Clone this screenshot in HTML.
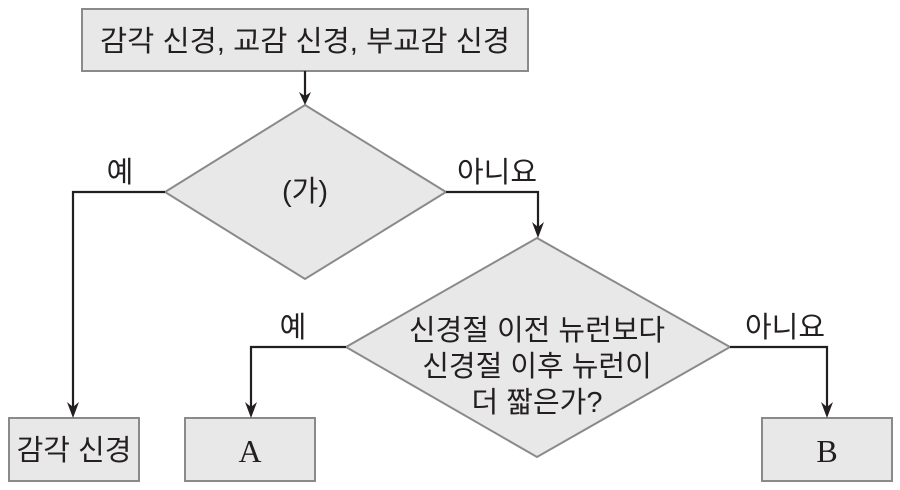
<!DOCTYPE html>
<html><head><meta charset="utf-8"><style>
html,body{margin:0;padding:0;background:#fff;width:900px;height:490px;overflow:hidden}
text{font-family:"Liberation Sans","Noto Sans CJK KR","NanumGothic",sans-serif;fill:#231f20}
</style></head><body>
<svg width="900" height="490" viewBox="0 0 900 490" xmlns="http://www.w3.org/2000/svg">
<g fill="#e8e8e8" stroke="#8a8a8a" stroke-width="2">
<rect x="82" y="9" width="446" height="62"/>
<polygon points="305,105 446,192 305,279 165,192"/>
<polygon points="537,238 730,347 537,457 346,347"/>
<rect x="9" y="418" width="130" height="63"/>
<rect x="185" y="418" width="130" height="63"/>
<rect x="762" y="418" width="130" height="63"/>
</g>
<g fill="none" stroke="#231f20" stroke-width="2.2">
<path d="M305,71 V96"/>
<path d="M165,192 H73 V408"/>
<path d="M446,192 H538 V228"/>
<path d="M346,347 H251 V408"/>
<path d="M730,347 H827 V408"/>
</g>
<g fill="#231f20">
<path d="M299,92 L305,96 L311,92 L305,105 Z"/>
<path d="M67,402 L73,407 L79,402 L73,418 Z"/>
<path d="M532,222 L538,227 L544,222 L538,238 Z"/>
<path d="M245,402 L251,407 L257,402 L251,418 Z"/>
<path d="M821,402 L827,407 L833,402 L827,418 Z"/>
</g>
<g font-size="29" text-anchor="middle">
<text x="305" y="51" textLength="410" lengthAdjust="spacingAndGlyphs">감각 신경, 교감 신경, 부교감 신경</text>
<text x="305" y="201">(가)</text>
<text x="537" y="340">신경절 이전 뉴런보다</text>
<text x="537" y="376">신경절 이후 뉴런이</text>
<text x="537" y="412">더 짧은가?</text>
<text x="74" y="460">감각 신경</text>
<text x="120" y="182">예</text>
<text x="497" y="182">아니요</text>
<text x="293" y="337">예</text>
<text x="785" y="337">아니요</text>
</g>
<text x="250" y="462" text-anchor="middle" font-size="32" style="font-family:'Liberation Serif',serif">A</text>
<text x="827" y="462" text-anchor="middle" font-size="32" style="font-family:'Liberation Serif',serif">B</text>
</svg>
</body></html>
